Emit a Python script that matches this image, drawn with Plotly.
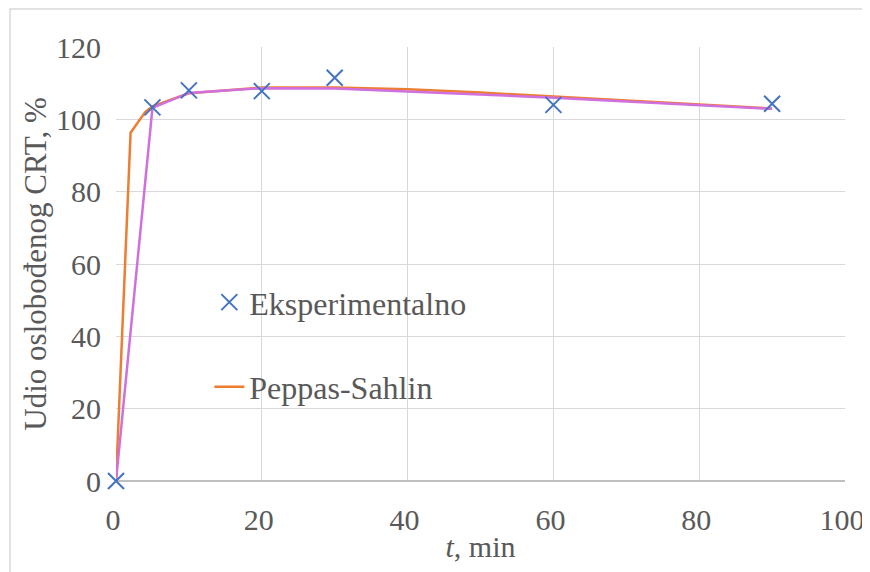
import plotly.graph_objects as go

# experimental release data
t_exp = [0, 5, 10, 20, 30, 60, 90]
release_exp = [0, 103.3, 108.0, 107.8, 111.5, 104.0, 104.3]

# Peppas-Sahlin model curve
t_ps = [0, 2, 4, 5, 10, 20, 30, 40, 50, 60, 90]
release_ps = [0, 96.3, 102.0, 103.6, 107.2, 108.8, 108.8, 108.3, 107.4, 106.3, 103.0]

# second model (no legend entry visible)
t_model2 = [0, 5, 10, 20, 30, 60, 90]
release_model2 = [0, 103.2, 107.3, 108.6, 108.5, 106.0, 102.9]

FONT = "Liberation Serif"
TEXT = "#595959"

fig = go.Figure()
fig.add_trace(go.Scatter(
    x=t_ps, y=release_ps, mode="lines", name="Peppas-Sahlin",
    line=dict(color="#ED7D31", width=2.5), legendgroup="ps", legendrank=2,
))
fig.add_trace(go.Scatter(
    x=t_model2, y=release_model2, mode="lines", name="Model",
    line=dict(color="#D070DE", width=2.5), showlegend=False,
))
fig.add_trace(go.Scatter(
    x=t_exp, y=release_exp, mode="markers", name="Eksperimentalno",
    marker=dict(symbol="x-thin", size=16, line=dict(color="#4472C4", width=2)),
    legendgroup="exp", legendrank=1, cliponaxis=False,
))

# the page adds an 8px body margin, so the figure is 8px smaller than the window
fig.update_layout(
    width=862, height=564,
    margin=dict(l=108, r=25, t=39, b=91),
    paper_bgcolor="white", plot_bgcolor="white",
    font=dict(family=FONT, size=30, color=TEXT),
    showlegend=True,
    legend=dict(
        x=0.128, y=0.475, xanchor="left", yanchor="top",
        bgcolor="rgba(0,0,0,0)", tracegroupgap=40,
        font=dict(family=FONT, size=32, color=TEXT),
    ),
    xaxis=dict(
        range=[0, 100], dtick=20, showgrid=True, gridcolor="#D9D9D9", gridwidth=1,
        zeroline=False, showline=False, ticks="", ticklabelstandoff=18, automargin=False,
        ticklabelshift=-3,
        title=dict(text="<i>t</i>, min", standoff=0, font=dict(family=FONT, size=30, color=TEXT)),
    ),
    yaxis=dict(
        range=[0, 120], dtick=20, showgrid=True, gridcolor="#D9D9D9", gridwidth=1,
        zeroline=True, zerolinecolor="#BFBFBF", zerolinewidth=1.5,
        showline=False, ticks="", ticklabelstandoff=14, automargin=False,
        title=dict(text="Udio oslobođenog CRT, %", standoff=0, font=dict(family=FONT, size=31, color=TEXT)),
    ),
)

# outer chart border (as in the spreadsheet export)
fig.add_shape(
    type="rect", xref="paper", yref="paper",
    x0=-106 / 729, x1=1.2, y0=-0.3, y1=472 / 434,
    line=dict(color="#D9D9D9", width=1.5), fillcolor="rgba(0,0,0,0)", layer="below",
)

fig.write_html("out.html")
